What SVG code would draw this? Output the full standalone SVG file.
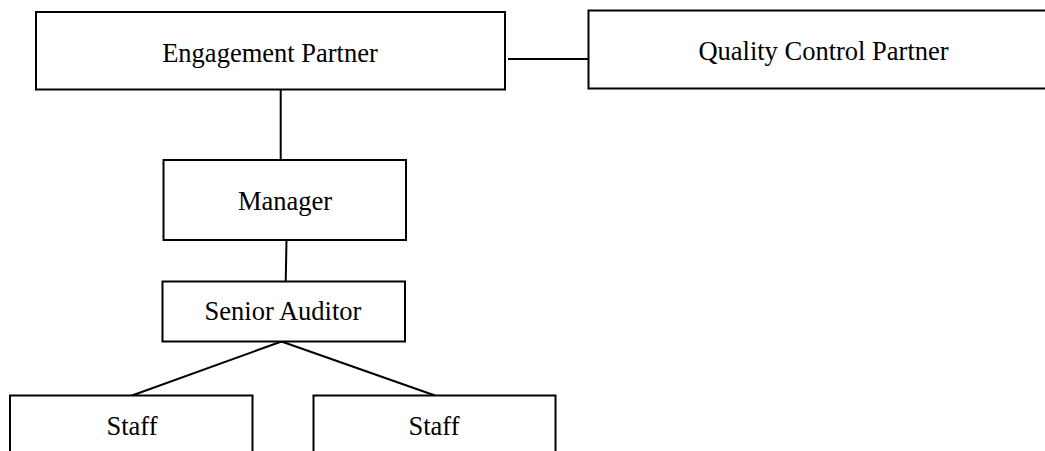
<svg xmlns="http://www.w3.org/2000/svg" width="1045" height="451" viewBox="0 0 1045 451">
<style>
.box{fill:#fff;stroke:#000;stroke-width:2}
.lbl{font-family:"Liberation Serif","Times New Roman",serif;font-size:26.5px;fill:#000;text-anchor:middle}
.conn{stroke:#000;stroke-width:2;fill:none}
</style>
<rect width="1045" height="451" fill="#fff"/>
<g id="connectors">
<line class="conn" x1="508" y1="59" x2="588.5" y2="59"/>
<line class="conn" x1="280.7" y1="89" x2="280.7" y2="160"/>
<line class="conn" x1="286.5" y1="240" x2="285.7" y2="282"/>
<line class="conn" x1="281.5" y1="341.5" x2="132" y2="395.5"/>
<line class="conn" x1="281.5" y1="341.5" x2="435" y2="395.5"/>
</g>
<g id="engagement-partner">
<rect class="box" x="36" y="12" width="469" height="77.5"/>
<text class="lbl" x="270" y="62">Engagement Partner</text>
</g>
<g id="quality-control-partner">
<rect class="box" x="588.5" y="10.5" width="470" height="78"/>
<text class="lbl" x="823.5" y="60">Quality Control Partner</text>
</g>
<g id="manager">
<rect class="box" x="163.5" y="160" width="242.5" height="80"/>
<text class="lbl" x="285" y="209.5">Manager</text>
</g>
<g id="senior-auditor">
<rect class="box" x="162.5" y="281.5" width="242.5" height="60"/>
<text class="lbl" x="283" y="320">Senior Auditor</text>
</g>
<g id="staff-1">
<rect class="box" x="10" y="395.5" width="242.5" height="80"/>
<text class="lbl" x="132" y="435">Staff</text>
</g>
<g id="staff-2">
<rect class="box" x="313.5" y="395.5" width="242" height="80"/>
<text class="lbl" x="434" y="435">Staff</text>
</g>
</svg>
